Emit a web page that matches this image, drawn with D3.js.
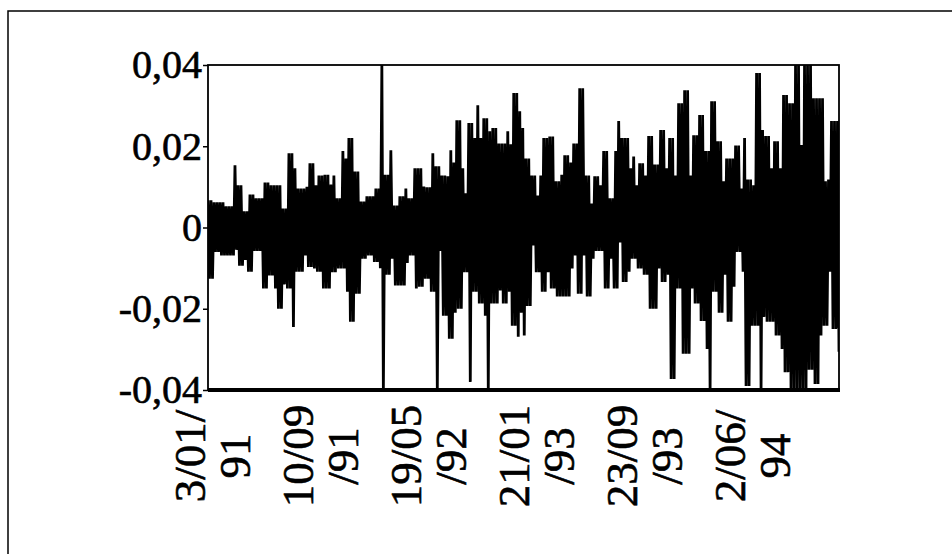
<!DOCTYPE html>
<meta charset="utf-8">
<style>
    body {
        margin: 0;
        background: #fff;
    }

    svg {
        display: block;
    }

    text {
        font-family: "Liberation Serif", "Times New Roman", serif;
        fill: #000;
        stroke: #000;
        stroke-width: 0.6px;
    }

    .series {
        fill: none;
        stroke: #000;
        stroke-width: 2.8px;
        stroke-linejoin: bevel;
    }

    .frame {
        fill: none;
        stroke: #000;
    }
</style>

<body>
    <script src="https://d3js.org/d3.v7.min.js"></script>
    <script>

        var yTicks = [0.04, 0.02, 0, -0.02, -0.04];
        var yTickLabels = ["0,04", "0,02", "0", "-0,02", "-0,04"];

        // position of each date label in the series
        var xTickIndex = [0, 72, 144, 216, 288, 360];
        var xTickLabels = [["3/01/", "91"], ["10/09", "/91"], ["19/05", "/92"],
                           ["21/01", "/93"], ["23/09", "/93"], ["2/06/", "94"]];

        // daily returns (up/down swings)
        var returns = [
            .0067, -.0126, .0067, -.0126, .0062, -.006, .0062, -.006, .0062, -.0069, .0062, -.0069, .0052, -.0069,
            .0052, -.0069, .0052, -.0069, .0153, -.0055, .0104, -.0094, .0104, -.0094, .004, -.008, .004, -.0109,
            .0081, -.0109, .0081, -.0058, .0072, -.0058, .0072, -.0058, .0072, -.015, .0111, -.015, .0111, -.0118,
            .0104, -.0118, .0104, -.015, .0104, -.02, .0104, -.02, .0047, -.014, .0047, -.015, .0183, -.015,
            .0183, -.0245, .0146, -.0109, .0096, -.0109, .0096, -.0109, .0096, -.0069, .01, -.0097, .0158, -.0097,

            .0158, -.0101, .0104, -.0109, .0128, -.0109, .0128, -.015, .013, -.015, .013, -.015, .0106, -.011,
            .0128, -.011, .0072, -.0101, .0072, -.0101, .0188, -.0101, .017, -.0158, .022, -.0232, .022, -.0232,
            .0138, -.0163, .0138, -.0163, .0064, -.0077, .0064, -.0077, .0077, -.0069, .0077, -.0069, .0077, -.0085,
            .0096, -.0085, .0096, -.01, .04, -.04, .013, -.0116, .013, -.0116, .019, -.0077, .0054, -.0143,
            .0054, -.0143, .0077, -.0143, .0077, -.0143, .0096, -.0087, .0072, -.0069, .0072, -.0069, .0146, -.015,

            .0146, -.0146, .0146, -.0146, .0101, -.0126, .0099, -.0126, .0099, -.0158, .0183, -.0158, .0151, -.04,
            .0151, -.0058, .0128, -.0217, .0128, -.0217, .0126, -.0274, .019, -.0274, .016, -.021, .0264, -.02,
            .0264, -.02, .0146, -.011, .0084, -.011, .0257, -.038, .0257, -.0158, .022, -.0158, .0301, -.0187,
            .022, -.0187, .0269, -.0217, .0269, -.04, .0237, -.0187, .0245, -.0187, .0245, -.0187, .0207, -.0155,
            .0207, -.0187, .0207, -.0187, .0237, -.0158, .0205, -.0242, .0331, -.0242, .0331, -.0269, .0286, -.021,

            .0245, -.0266, .017, -.0193, .017, -.0193, .0128, -.0044, .0128, -.011, .0079, -.011, .0128, -.0158,
            .022, -.0158, .022, -.011, .0224, -.015, .0224, -.015, .0114, -.017, .0114, -.017, .013, -.017,
            .0178, -.017, .0178, -.017, .016, -.0101, .0207, -.0069, .0207, -.0163, .0343, -.0163, .0343, -.0069,
            .0128, -.017, .0128, -.017, .0059, -.0077, .0126, -.0058, .0126, -.0058, .0104, -.0058, .0188, -.015,
            .0188, -.015, .0072, -.0077, .0072, -.015, .0188, -.015, .0262, -.0037, .022, -.0134, .022, -.0134,

            .022, -.0109, .0146, -.0077, .0175, -.0077, .0104, -.0101, .0158, -.0101, .0158, -.0116, .0128, -.0116,
            .0225, -.02, .0225, -.02, .0155, -.02, .0155, -.0101, .024, -.0134, .024, -.0134, .0146, -.0116,
            .022, -.0373, .022, -.0373, .0128, -.015, .0306, -.015, .0306, -.0311, .0338, -.0311, .0338, -.0311,
            .0128, -.015, .0227, -.0187, .0227, -.0187, .0277, -.023, .0277, -.023, .0188, -.0299, .0188, -.04,
            .0311, -.0158, .0311, -.0158, .0212, -.021, .0212, -.021, .0114, -.0116, .017, -.0232, .017, -.0232,

            .017, -.0146, .0202, -.006, .0202, -.006, .0096, -.0109, .022, -.039, .0118, -.039, .0118, -.0242,
            .0104, -.0242, .038, -.0242, .038, -.04, .024, -.022, .0225, -.0232, .0225, -.0232, .0146, -.0232,
            .0212, -.0266, .0212, -.0266, .0146, -.0299, .0326, -.0356, .0326, -.0356, .0306, -.04, .0306, -.04,
            .04, -.04, .04, -.04, .0203, -.04, .04, -.04, .04, -.035, .04, -.035, .0318, -.0385,
            .0318, -.0385, .0318, -.0266, .0318, -.0242, .0114, -.0242, .0118, -.0109, .0262, -.025, .0262, -.025,
            .0262, -.0306
        ];

        var width = 952,
            height = 554;
        var plot = { left: 208, right: 839, top: 65, bottom: 390 };

        var svg = d3.select("body")
            .append("svg")
            .attr("width", width)
            .attr("height", height);

        // page frame of the scan
        svg.append("path")
            .attr("class", "frame")
            .attr("stroke-width", 1.5)
            .attr("d", "M8," + height + "V11H" + width);

        var x = d3.scaleLinear()
            .domain([0, returns.length - 1])
            .range([plot.left, plot.right]);

        var y = d3.scaleLinear()
            .domain([-0.04, 0.04])
            .range([plot.bottom, plot.top]);

        svg.append("clipPath")
            .attr("id", "clip")
            .append("rect")
            .attr("x", plot.left)
            .attr("y", plot.top)
            .attr("width", plot.right - plot.left)
            .attr("height", plot.bottom - plot.top);

        var line = d3.line()
            .x(function (d, i) { return x(i); })
            .y(function (d) { return y(d); });

        svg.append("path")
            .datum(returns)
            .attr("class", "series")
            .attr("clip-path", "url(#clip)")
            .attr("d", line);

        /* ------- FRAME AND AXES -------*/

        svg.append("rect")
            .attr("class", "frame")
            .attr("stroke-width", 1.8)
            .attr("x", plot.left)
            .attr("y", plot.top)
            .attr("width", plot.right - plot.left)
            .attr("height", plot.bottom - plot.top);

        svg.append("line")
            .attr("stroke", "#000")
            .attr("stroke-width", 4)
            .attr("x1", plot.left)
            .attr("x2", plot.right + 1)
            .attr("y1", plot.bottom)
            .attr("y2", plot.bottom);

        var yAxis = svg.append("g")
            .attr("transform", "translate(" + plot.left + ",0)")
            .call(d3.axisLeft(y)
                .tickValues(yTicks)
                .tickFormat(function (d, i) { return yTickLabels[i]; })
                .tickSize(5)
                .tickPadding(1));

        yAxis.select(".domain").remove();
        yAxis.selectAll(".tick line").attr("stroke", "#000").attr("stroke-width", 1.5);
        yAxis.selectAll(".tick text")
            .attr("font-family", "Liberation Serif, Times New Roman, serif")
            .attr("font-size", 40);

        var xLabels = svg.append("g")
            .selectAll("text")
            .data(xTickIndex)
            .enter()
            .append("text")
            .attr("font-size", 45)
            .attr("text-anchor", "middle")
            .attr("transform", function (d) {
                return "translate(" + (x(d) - 3) + ",456) rotate(-90)";
            });

        xLabels.selectAll("tspan")
            .data(function (d, i) { return xTickLabels[i]; })
            .enter()
            .append("tspan")
            .attr("x", 0)
            .attr("dy", function (d, j) { return j === 0 ? 0 : 45; })
            .text(function (d) { return d; });

    </script>
</body>
